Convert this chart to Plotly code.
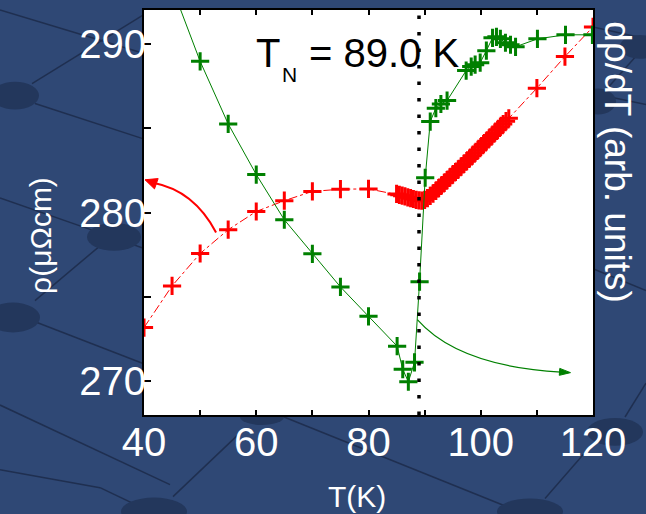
import plotly.graph_objects as go

# Resistivity rho(T) in micro-ohm cm
t_rho = [40, 45, 50, 55, 60, 65, 70, 75, 80,
         85.0, 85.5, 86.0, 86.5, 87.0, 87.5, 88.0, 88.5, 89.0, 89.5,
         90.0, 90.5, 91.0, 91.5, 92.0, 92.5, 93.0, 93.5, 94.0, 94.5,
         95.0, 95.5, 96.0, 96.5, 97.0, 97.5, 98.0, 98.5, 99.0, 99.5,
         100.0, 100.5, 101.0, 101.5, 102.0, 102.5, 103.0, 103.5, 104.0, 104.5,
         105.0, 110, 115, 120]
rho = [273.18, 275.65, 277.57, 278.98, 280.06, 280.70, 281.25, 281.38, 281.40,
       281.10, 281.05, 281.00, 280.95, 280.90, 280.85, 280.80, 280.75, 280.72, 280.70,
       280.75, 280.85, 280.98, 281.12, 281.28, 281.44, 281.60, 281.76, 281.92, 282.08,
       282.24, 282.40, 282.56, 282.72, 282.88, 283.04, 283.20, 283.37, 283.54, 283.71,
       283.88, 284.05, 284.22, 284.39, 284.56, 284.73, 284.90, 285.07, 285.24, 285.41,
       285.58, 287.37, 289.24, 291.00]

# Temperature derivative d(rho)/dT, arbitrary units
t_drho = [45.0, 50.0, 55.0, 60.0, 65.0, 70.0, 75.0, 80.0,
          85.1, 86.1, 87.1, 88.2, 89.1, 90.1, 91.0, 92.0, 92.9, 94.0,
          97.4, 98.3, 99.0, 99.9, 101.0, 102.1, 102.8, 103.5, 104.4, 105.3, 106.2,
          110.1, 115.1, 119.9]
drho = [25.35, 20.96, 17.25, 14.25, 11.57, 9.55, 7.59, 5.85,
        4.08, 2.71, 1.97, 3.12, 7.90, 14.06, 17.39, 18.18, 18.43, 18.63,
        20.41, 20.65, 20.76, 20.88, 21.59, 22.35, 22.41, 22.29, 22.06, 21.94, 21.82,
        22.29, 22.53, 22.53]

T_N = 89.0
x_ticks = [40, 60, 80, 100, 120]
y_ticks = [270, 280, 290]
x_range = [40, 120]
y_range = [268, 292]

W, H = 646, 514
L, R, T, B = 144, 53, 8, 99
PW, PH = W - L - R, H - T - B

FONT = "Liberation Sans, Arial, sans-serif"
BG = "#2f4875"
LINE_DARK = "#1f2f50"
BALL = "#23375c"
RED = "#ff0000"
GREEN = "#008000"


def paper(px, py):
    """Pixel position on the page -> paper coordinates."""
    return (px - L) / PW, (H - B - py) / PH


def to_px(tx, ry):
    """Data (T, rho) -> page pixels."""
    return (L + (tx - x_range[0]) / (x_range[1] - x_range[0]) * PW,
            T + (y_range[1] - ry) / (y_range[1] - y_range[0]) * PH)


def to_data(px, py):
    """Page pixels -> data (T, rho)."""
    return (x_range[0] + (px - L) / PW * (x_range[1] - x_range[0]),
            y_range[1] - (py - T) / PH * (y_range[1] - y_range[0]))


def arrow_head(tip, back_dx, back_dy, length, half_w):
    """Filled triangular head at data point `tip`, opening toward (back_dx, back_dy) px."""
    tx, ty = to_px(*tip)
    n = (back_dx ** 2 + back_dy ** 2) ** 0.5
    ux, uy = back_dx / n, back_dy / n
    bx, by = tx + ux * length, ty + uy * length
    p1 = to_data(bx - uy * half_w, by + ux * half_w)
    p2 = to_data(bx + uy * half_w, by - ux * half_w)
    return "M%.3f,%.3f L%.3f,%.3f L%.3f,%.3f Z" % (tip[0], tip[1], p1[0], p1[1], p2[0], p2[1])


fig = go.Figure()

fig.add_trace(go.Scatter(
    x=t_rho, y=rho, mode="lines+markers", name="rho",
    line=dict(color=RED, width=1, dash="dashdot"),
    marker=dict(symbol="cross-thin", size=13, color=RED,
                line=dict(color=RED, width=3)),
    showlegend=False,
))

fig.add_trace(go.Scatter(
    x=t_drho, y=drho, mode="lines+markers", name="drho/dT", yaxis="y2",
    line=dict(color=GREEN, width=1),
    marker=dict(symbol="cross-thin", size=13, color=GREEN,
                line=dict(color=GREEN, width=3)),
    showlegend=False,
))

shapes = []

# Background lattice: connecting rods and balls
rods = [
    ((0, 8), (145, 52)), ((32, 82), (145, 12)), ((35, 102), (145, 138)),
    ((0, 197), (100, 232)), ((128, 242), (145, 248)), ((100, 245), (35, 300)),
    ((37, 322), (145, 364)), ((0, 405), (170, 485)), ((173, 497), (239, 434)),
    ((284, 417), (504, 506)), ((545, 499), (590, 447)), ((593, 25), (646, 37)),
    ((600, 95), (640, 50)), ((593, 92), (646, 103)), ((593, 268), (646, 290)),
    ((625, 417), (646, 383)), ((0, 470), (100, 488)), ((100, 488), (150, 512)),
]
for (xa, ya), (xb, yb) in rods:
    x0, y0 = paper(xa, ya)
    x1, y1 = paper(xb, yb)
    shapes.append(dict(type="line", xref="paper", yref="paper",
                       x0=x0, y0=y0, x1=x1, y1=y1, layer="below",
                       line=dict(color=LINE_DARK, width=1.5)))

balls = [
    (15, 94, 24, 14), (114, 236, 27, 14), (13, 317, 27, 15), (154, 512, 33, 14),
    (262, 417, 22, 8), (530, 512, 33, 13), (615, 432, 28, 14), (640, 45, 20, 12),
    (598, 100, 18, 13),
]
for cx, cy, rx, ry in balls:
    x0, y0 = paper(cx - rx, cy + ry)
    x1, y1 = paper(cx + rx, cy - ry)
    shapes.append(dict(type="circle", xref="paper", yref="paper",
                       x0=x0, y0=y0, x1=x1, y1=y1, layer="below",
                       fillcolor=BALL, line=dict(width=0)))

# white plotting area on top of the lattice
shapes.append(dict(type="rect", xref="paper", yref="paper", x0=0, y0=0, x1=1, y1=1,
                   layer="below", fillcolor="white", line=dict(width=0)))

# T_N marker line
shapes.append(dict(type="line", xref="x", yref="paper", x0=T_N, x1=T_N, y0=0, y1=1,
                   layer="above", line=dict(color="black", width=3.5, dash="3.5px,13px")))

# curved pointers toward the matching axes
red_tip = (40.18, 281.94)
green_tip = (115.99, 270.51)
shapes.append(dict(type="path", xref="x", yref="y", layer="above",
                   path="M52.84,278.82 Q48.92,281.29 41.8,281.75",
                   line=dict(color=RED, width=2)))
shapes.append(dict(type="path", xref="x", yref="y", layer="above",
                   path=arrow_head(red_tip, 17, 6, 12, 5.5),
                   fillcolor=RED, line=dict(color=RED, width=1)))
shapes.append(dict(type="path", xref="x", yref="y", layer="above",
                   path="M88.70,273.65 C92.6,272.18 99.76,270.82 114.3,270.54",
                   line=dict(color=GREEN, width=1.2)))
shapes.append(dict(type="path", xref="x", yref="y", layer="above",
                   path=arrow_head(green_tip, -14, -1, 11, 3.5),
                   fillcolor=GREEN, line=dict(color=GREEN, width=1)))

annotations = []

# T_N label: main letter, subscript, value
def label(px, py, text, size, color="black", angle=0, xanchor="center"):
    x, y = paper(px, py)
    annotations.append(dict(x=x, y=y, xref="paper", yref="paper", text=text,
                            textangle=angle, showarrow=False,
                            xanchor=xanchor, yanchor="middle",
                            font=dict(family=FONT, size=size, color=color)))


label(254, 51, "T", 40, xanchor="left")
label(280, 73, "N", 21, xanchor="left")
label(307, 51, "= %.1f K" % T_N, 40, xanchor="left")

# axis titles
label(356.5, 497, "T(K)", 30, color="white")
label(41, 235, "ρ(μΩcm)", 30, color="white", angle=-90)
label(618, 161, "dρ/dT (arb. units)", 37, color="white", angle=90)

tick_font = dict(family=FONT, size=40, color="white")

fig.update_layout(
    width=W, height=H,
    margin=dict(l=L, r=R, t=T, b=B, pad=0),
    paper_bgcolor=BG, plot_bgcolor="white",
    shapes=shapes, annotations=annotations,
    xaxis=dict(range=x_range, tickmode="array", tickvals=x_ticks,
               ticks="inside", ticklen=5, tickwidth=1.5, tickcolor="black",
               minor=dict(dtick=10, tick0=40, ticks="inside", ticklen=5,
                          tickwidth=1.5, tickcolor="black"),
               showline=True, linecolor="black", linewidth=2, mirror="ticks",
               showgrid=False, zeroline=False, tickfont=tick_font,
               ticklabelstandoff=-9),
    yaxis=dict(range=y_range, tickmode="array", tickvals=y_ticks,
               ticks="inside", ticklen=7, tickwidth=1.5, tickcolor="black",
               minor=dict(dtick=5, tick0=270, ticks="inside", ticklen=7,
                          tickwidth=1.5, tickcolor="black"),
               showline=True, linecolor="black", linewidth=2, mirror=True,
               showgrid=False, zeroline=False, tickfont=tick_font,
               ticklabelstandoff=-12),
    yaxis2=dict(range=[0, 24], overlaying="y", side="right",
                showticklabels=False, ticks="", showgrid=False, zeroline=False,
                showline=True, linecolor="black", linewidth=2),
)

fig.write_html("out.html")
